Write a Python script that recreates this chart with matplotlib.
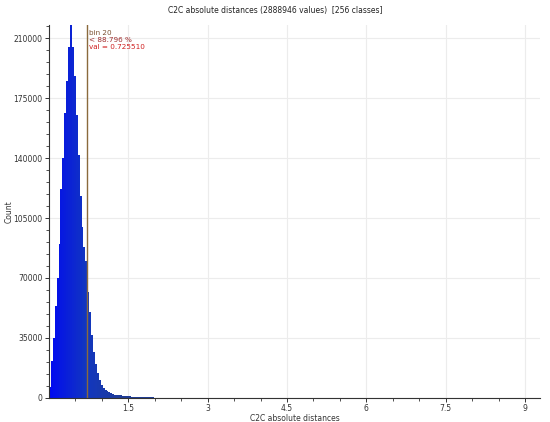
import numpy as np
import matplotlib
matplotlib.use("Agg")
import matplotlib.pyplot as plt
from matplotlib.colors import LinearSegmentedColormap

# histogram data (256 classes)
n_classes = 256
val_min = 0.0
bin_width = 0.725510 / 20
counts_read = [6500, 21300, 35000, 53400, 70000, 90000, 122000, 140000, 166000, 185000,
               205000, 217700, 205000, 188000, 165000, 142000, 118000, 100000, 88000, 80000,
               62000, 50000, 37000, 27000, 20000, 14500, 10500, 7800, 6000, 4800,
               3900, 3300, 2800, 2400, 2000, 1800, 1600, 1450, 1300, 1200,
               1100, 1000, 900, 820, 750, 680, 620, 560, 510, 460,
               420, 380, 340, 310, 280, 250, 220, 200, 180, 160,
               140, 120, 100, 90, 80, 70, 60, 50, 40, 30]
# remaining classes are too small to see
counts = counts_read + [0] * (n_classes - len(counts_read))

sel_bin = 20
sel_val = 0.725510
sel_pct = 88.796

title = "C2C absolute distances (2888946 values)  [256 classes]"
x_label = "C2C absolute distances"
y_label = "Count"
x_ticks = [1.5, 3, 4.5, 6, 7.5, 9]
y_ticks = [0, 35000, 70000, 105000, 140000, 175000, 210000]

edges = val_min + bin_width * np.arange(n_classes)
x_max = val_min + bin_width * n_classes

# bars go from bright blue to a darker navy along x
cmap = LinearSegmentedColormap.from_list("blues", ["#0008f2", "#1236c0", "#1f3c96"])
colors = cmap(np.clip((edges + bin_width / 2) / 1.4, 0, 1))

fig = plt.figure(figsize=(5.5, 4.22), dpi=100)
ax = fig.add_axes([0.089, 0.057, 0.893, 0.884])

ax.bar(edges, counts, width=bin_width, align="edge", color=colors, linewidth=0, zorder=2)
ax.axvline(sel_val, color="#8a6a3c", linewidth=1.0, zorder=3)

ax.set_xlim(val_min, x_max)
ax.set_ylim(0, max(counts))
ax.set_xticks(x_ticks)
ax.set_xticklabels([("%g" % t) for t in x_ticks])
ax.set_xticks(np.arange(0.5, x_max, 0.5), minor=True)
ax.set_yticks(y_ticks)
ax.set_yticks(np.arange(0, max(counts), 7000), minor=True)

ax.grid(True, which="major", color="#ececec", linewidth=0.8, zorder=0)
ax.set_axisbelow(True)
for s in ["top", "right"]:
    ax.spines[s].set_visible(False)
for s in ["left", "bottom"]:
    ax.spines[s].set_color("#333333")
    ax.spines[s].set_linewidth(0.8)
ax.tick_params(which="major", direction="out", length=3, width=0.7, labelsize=5.5, colors="#333333", pad=1.5)
ax.tick_params(which="minor", direction="out", length=2, width=0.6, colors="#333333")

ax.set_xlabel(x_label, fontsize=5.5, color="#333333")
ax.xaxis.set_label_coords(0.5, -0.044)
ax.set_ylabel(y_label, fontsize=5.5, color="#333333")
ax.yaxis.set_label_coords(-0.072, 0.5)
fig.text(0.5, 0.976, title, ha="center", va="center", fontsize=5.5, color="#222222")

ax.text(sel_val + 0.04, 213000, "bin %d" % sel_bin, fontsize=5.2, color="#7a5030", va="center")
ax.text(sel_val + 0.04, 209000, "< %.3f %%" % sel_pct, fontsize=5.2, color="#a03030", va="center")
ax.text(sel_val + 0.04, 205000, "val = %.6f" % sel_val, fontsize=5.2, color="#d02020", va="center")

fig.savefig("out.png", dpi=100)
